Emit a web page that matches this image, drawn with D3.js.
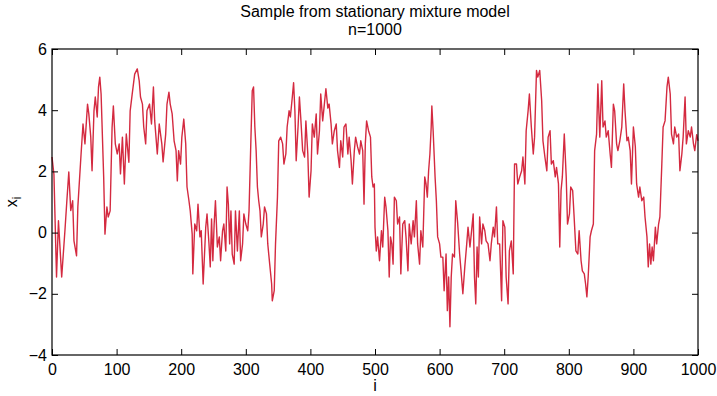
<!DOCTYPE html>
<html>
<head>
<meta charset="utf-8">
<script src="https://cdn.jsdelivr.net/npm/d3@7"></script>
<style>
  body { margin: 0; background: #fff; }
  svg { display: block; font-family: "Liberation Sans", Arial, sans-serif; }
  .axis path, .axis line { stroke: #000; }
  .axis text { font-size: 16px; fill: #000; }
</style>
</head>
<body>
<svg id="chart" width="717" height="396"></svg>
<script>
"use strict";

// sample index
const idx = [0,3,7,10,15,20,23,26,29,32,34,38,40,45,48,51,55,57,60,62,65,67,70,72,74,76,80,82,85,87,90,93,95,98,101,104,106,109,112,115,119,121,124,128,132,135,137,140,142,145,147,151,154,157,159,163,166,170,172,176,178,181,183,186,189,192,194,196,199,201,204,207,209,212,214,217,218,221,224,226,229,231,234,238,240,243,245,247,249,251,253,256,259,261,264,266,269,271,273,275,277,279,282,284,287,290,292,295,297,300,303,305,308,310,312,314,316,318,320,322,324,327,329,332,334,337,340,341,344,346,349,351,354,357,359,362,364,367,369,372,374,376,378,381,383,385,388,391,393,396,398,401,403,406,409,411,414,416,419,421,424,427,429,432,434,437,440,442,445,447,450,452,455,458,460,463,465,468,470,473,476,478,481,483,485,487,490,493,495,497,499,500,502,504,507,510,512,515,517,520,522,524,526,528,530,533,535,538,540,543,546,548,551,553,556,559,561,564,566,569,571,574,577,579,581,583,585,587,588,590,593,595,597,600,602,605,607,610,612,614,616,618,620,623,625,628,631,633,636,639,642,644,647,649,652,654,656,658,660,662,665,667,670,672,675,678,680,683,685,688,690,693,696,698,701,703,706,708,711,714,716,719,721,724,727,729,732,734,737,739,742,745,747,750,752,755,758,760,763,766,768,771,773,776,779,781,784,786,788,790,793,796,798,801,803,806,808,811,814,816,819,821,824,826,828,830,833,835,838,840,843,845,848,851,853,856,858,861,864,866,869,871,874,876,879,882,885,887,890,892,895,897,900,903,905,908,910,913,916,918,921,923,925,927,929,931,934,936,939,941,944,946,949,952,954,957,959,962,964,967,970,972,975,977,980,982,985,988,990,993,995,998,1000];

// sample value x_i
const xi = [2.47,1.9,-1.45,0.39,-1.45,0.06,1.04,1.98,0.72,1.04,-0.27,-0.76,0.84,2.57,3.55,2.9,4.2,3.88,3.12,2.02,3.98,4.43,3.78,4.76,5.08,4.53,1.82,-0.05,0.84,0.51,0.71,3.43,4.14,2.9,2.57,2.9,1.92,3.12,1.59,3.22,2.3,3.98,4.5,5.18,5.35,4.96,4.43,4.2,3.45,2.9,3.98,4.2,3.55,4.76,3.65,2.57,3.55,2.9,2.31,3.22,4.2,4.59,4.2,3.88,3.0,2.68,1.69,2.68,2.24,3.12,3.71,2.9,1.49,1.04,0.71,-0.05,-1.35,0.28,0.06,0.93,-0.14,0.06,-1.68,0.18,0.61,-0.37,-1.12,0.45,-0.92,0.28,1.04,-0.47,-0.14,-0.92,0.06,0.28,-0.6,1.49,0.93,-0.37,0.71,-0.7,-1.03,0.71,-0.6,0.71,-0.92,-0.37,0.61,0.28,0.06,0.71,3.12,4.64,4.76,3.45,2.68,1.49,1.04,0.71,-0.14,0.28,0.84,0.61,-0.37,-1.03,-1.68,-2.23,-1.9,-0.37,1.16,3.0,3.12,2.9,2.24,2.57,3.45,3.98,3.78,4.43,4.9,3.98,2.35,3.5,4.43,3.78,2.68,2.47,3.65,2.57,1.16,2.02,3.55,3.12,3.88,2.57,3.33,4.53,3.65,4.07,4.7,4.07,4.2,3.55,2.9,3.33,3.55,2.68,2.13,3.0,2.47,3.45,3.55,2.57,3.12,2.35,1.59,2.68,3.12,2.8,2.57,3.0,2.68,0.93,2.9,3.65,3.33,3.12,1.82,1.49,1.59,0.18,-0.6,-0.14,-0.92,0.06,-0.47,1.16,0.84,0.06,-1.45,-0.14,-0.37,-1.03,1.16,1.04,0.28,0.51,-1.35,0.28,0.39,-0.14,-1.25,0.28,-0.37,0.39,-0.14,1.04,-0.37,-1.03,0.06,-0.47,1.82,1.59,1.16,2.02,2.57,3.45,4.14,3.33,1.82,1.04,-0.14,-0.37,-0.8,-0.8,-1.9,-0.7,-2.55,-1.45,-3.08,-1.45,-0.7,-0.8,1.04,0.3,-0.7,-1.2,-2.0,-1.12,-0.37,0.18,-0.47,-0.05,0.61,-1.45,-2.33,-0.47,-1.45,0.51,-0.37,0.28,0.06,-0.27,-0.37,-0.92,-0.37,0.18,-0.14,0.84,-0.37,-0.37,-2.23,0.39,0.18,-1.45,-2.33,-0.6,-0.27,-1.35,2.24,2.24,1.59,1.82,2.02,2.47,1.59,3.33,3.98,4.53,3.45,2.57,3.12,5.3,5.08,5.3,4.31,3.0,2.47,2.02,3.12,3.33,2.24,2.35,1.82,2.13,1.59,-0.47,1.37,1.82,3.22,1.82,0.28,0.61,1.49,1.37,0.61,-0.6,-0.7,0.06,-0.92,-1.25,-1.35,-1.68,-2.1,-1.45,-0.14,0.06,0.28,2.68,3.22,4.86,3.12,4.96,3.45,3.65,3.12,3.33,2.57,2.13,4.2,3.98,2.9,2.68,3.0,3.45,4.86,3.98,3.0,3.12,2.68,1.59,3.45,2.8,1.59,1.16,1.49,1.04,1.16,0.51,-0.14,-1.12,-0.37,-1.03,-0.47,-0.92,0.18,-0.37,0.28,0.51,2.24,3.45,3.65,4.76,5.08,4.53,3.22,2.9,3.45,3.12,3.22,2.02,2.57,3.12,4.43,2.9,3.33,3.12,3.45,2.9,2.68,3.2,3.0];

const xTicks = [0, 100, 200, 300, 400, 500, 600, 700, 800, 900, 1000];
const yTicks = [-4, -2, 0, 2, 4, 6];
const titleLines = ["Sample from stationary mixture model", "n=1000"];

const data = idx.map((d, k) => ({ i: d, v: xi[k] }));

// plot box in pixels
const box = { left: 52, right: 698, top: 49, bottom: 355 };

const svg = d3.select("#chart");

const xScale = d3.scaleLinear().domain([0, 1000]).range([box.left, box.right]);
const yScale = d3.scaleLinear().domain([-4, 6]).range([box.bottom, box.top]);

// the series
const line = d3.line()
    .x(d => xScale(d.i))
    .y(d => yScale(d.v));

svg.append("path")
    .datum(data)
    .attr("d", line)
    .attr("fill", "none")
    .attr("stroke", "#d42a40")
    .attr("stroke-width", 1.4)
    .attr("stroke-linejoin", "round");

// bottom and left axes with labels, ticks pointing in
svg.append("g")
    .attr("class", "axis")
    .attr("transform", "translate(0," + box.bottom + ")")
    .call(d3.axisBottom(xScale).tickValues(xTicks).tickFormat(d3.format("d"))
        .tickSizeInner(-6).tickSizeOuter(0).tickPadding(9))
    .call(g => g.select(".domain").remove());

svg.append("g")
    .attr("class", "axis")
    .attr("transform", "translate(" + box.left + ",0)")
    .call(d3.axisLeft(yScale).tickValues(yTicks).tickSizeInner(-6).tickSizeOuter(0).tickPadding(5))
    .call(g => g.select(".domain").remove());

// top and right: ticks only
svg.append("g")
    .attr("class", "axis")
    .attr("transform", "translate(0," + box.top + ")")
    .call(d3.axisTop(xScale).tickValues(xTicks).tickSizeInner(-6).tickSizeOuter(0).tickFormat(""))
    .call(g => g.select(".domain").remove());

svg.append("g")
    .attr("class", "axis")
    .attr("transform", "translate(" + box.right + ",0)")
    .call(d3.axisRight(yScale).tickValues(yTicks).tickSizeInner(-6).tickSizeOuter(0).tickFormat(""))
    .call(g => g.select(".domain").remove());

// frame
svg.append("rect")
    .attr("x", box.left)
    .attr("y", box.top)
    .attr("width", box.right - box.left)
    .attr("height", box.bottom - box.top)
    .attr("fill", "none")
    .attr("stroke", "#000")
    .attr("stroke-width", 1.2);

// title
const midX = (box.left + box.right) / 2;
svg.append("g")
    .selectAll("text")
    .data(titleLines)
    .enter()
    .append("text")
    .attr("x", midX)
    .attr("y", (d, k) => 17 + k * 18)
    .attr("text-anchor", "middle")
    .style("font-size", "16px")
    .text(d => d);

// axis labels
svg.append("text")
    .attr("x", midX)
    .attr("y", 391)
    .attr("text-anchor", "middle")
    .style("font-size", "16px")
    .text("i");

const yLab = svg.append("text")
    .attr("transform", "translate(17,202) rotate(-90)")
    .attr("text-anchor", "middle")
    .style("font-size", "16px");
yLab.append("tspan").text("x");
yLab.append("tspan").attr("dy", 4).style("font-size", "12px").text("i");
</script>
</body>
</html>
